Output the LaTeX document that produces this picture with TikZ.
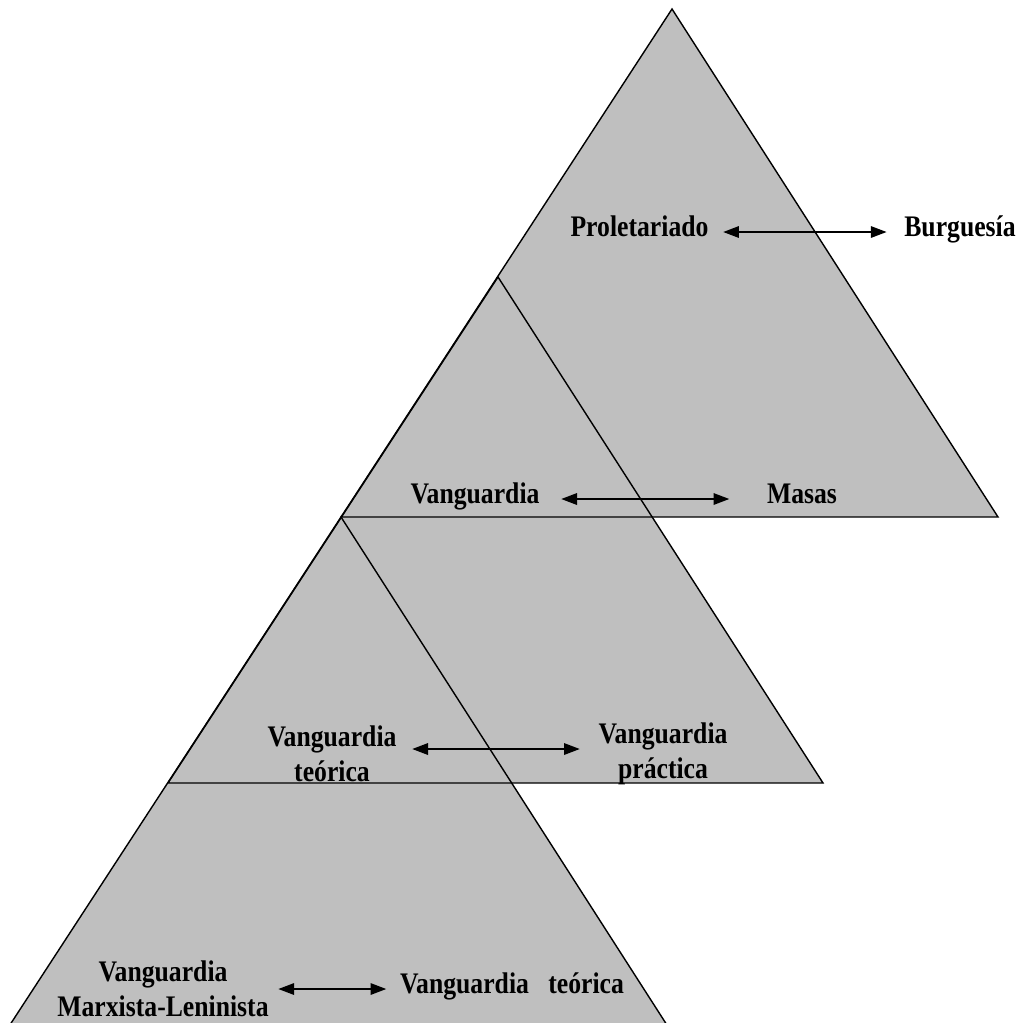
\documentclass[tikz,border=0pt]{standalone}
\usepackage{fontspec}
\setmainfont{Liberation Serif}[FakeStretch=0.86]
\usetikzlibrary{arrows.meta}
\definecolor{pyrgray}{gray}{0.75}
\tikzset{
  lbl/.style={font=\bfseries\fontsize{17}{20}\selectfont, inner sep=0pt, text height=0.68em, text depth=0.22em},
  lbltwo/.style={font=\bfseries\fontsize{17}{20}\selectfont, inner sep=0pt, align=center},
  rel/.style={{Triangle[length=9pt,width=6.5pt]}-{Triangle[length=9pt,width=6.5pt]}, line width=1.1pt}
}
\begin{document}
\begin{tikzpicture}[x=0.02cm,y=-0.02cm,line width=0.8pt]
\useasboundingbox (0,0) rectangle (1023,1022);
% fills first, outlines on top
\fill[pyrgray] (672,9) -- (341,517) -- (998,517) -- cycle;
\fill[pyrgray] (498,277) -- (168,783) -- (823,783) -- cycle;
\fill[pyrgray] (341,517) -- (10.5,1024) -- (666.3,1024) -- cycle;
\draw (672,9) -- (341,517) -- (998,517) -- cycle;
\draw (498,277) -- (168,783) -- (823,783) -- cycle;
\draw (341,517) -- (10.5,1024) -- (666.3,1024) -- cycle;
\node[lbl] (prol) at (639.5,232) {Proletariado};
\node[lbl] (burg) at (960,232) {Burguesía};
\draw[rel, shorten <=0.28cm, shorten >=0.34cm] (prol.east) -- (burg.west);
\node[lbl] (vang) at (475,499) {Vanguardia};
\node[lbl] (masas) at (802,499) {Masas};
\draw[rel, shorten <=0.42cm, shorten >=0.74cm] (vang.east) -- (masas.west);
\node[lbltwo] (teor) at (332,754) {Vanguardia\\teórica};
\node[lbltwo] (prac) at (663,754) {Vanguardia\\práctica};
\draw[rel, shorten <=0.3cm, shorten >=0.36cm] ([yshift=0.1cm]teor.east) -- ([yshift=0.1cm]prac.west);
\node[lbltwo] (marx) at (163,989) {Vanguardia\\Marxista-Leninista};
\node[lbl] (vteo) at (512,989) {Vanguardia\hspace{0.65em}teórica};
\draw[rel, shorten <=0.18cm, shorten >=0.26cm] (marx.east) -- (vteo.west);
\end{tikzpicture}
\end{document}
